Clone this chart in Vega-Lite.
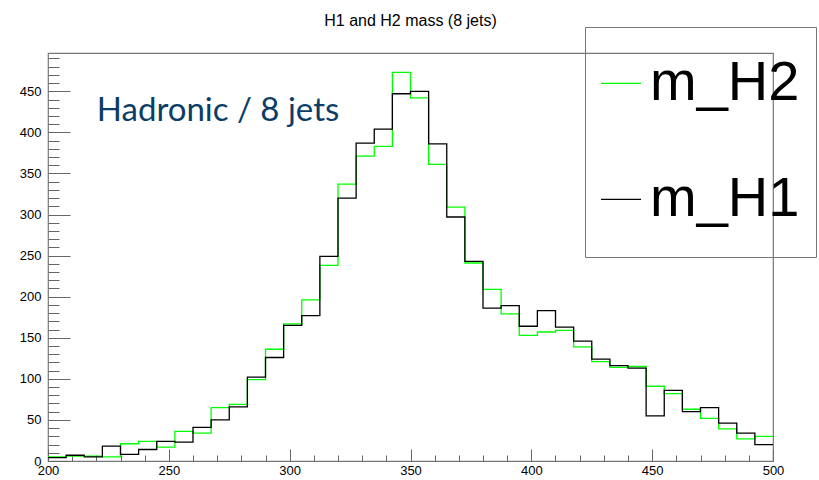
{
  "$schema": "https://vega.github.io/schema/vega-lite/v6.json",
  "width": 725,
  "height": 408,
  "autosize": "none",
  "padding": {"left": 48, "top": 53, "right": 46, "bottom": 19},
  "background": "white",
  "title": {
    "text": "H1 and H2 mass (8 jets)",
    "font": "Liberation Sans",
    "fontSize": 16,
    "fontWeight": "normal",
    "color": "#000000",
    "anchor": "middle",
    "frame": "group",
    "baseline": "alphabetic",
    "offset": -15
  },
  "datasets": {
    "hist": [
      {"mass": 200, "count": 5, "series": "m_H2"},
      {"mass": 207.5, "count": 6, "series": "m_H2"},
      {"mass": 215, "count": 6, "series": "m_H2"},
      {"mass": 222.5, "count": 5, "series": "m_H2"},
      {"mass": 230, "count": 21, "series": "m_H2"},
      {"mass": 237.5, "count": 24, "series": "m_H2"},
      {"mass": 245, "count": 17, "series": "m_H2"},
      {"mass": 252.5, "count": 36, "series": "m_H2"},
      {"mass": 260, "count": 34, "series": "m_H2"},
      {"mass": 267.5, "count": 65, "series": "m_H2"},
      {"mass": 275, "count": 69, "series": "m_H2"},
      {"mass": 282.5, "count": 99, "series": "m_H2"},
      {"mass": 290, "count": 136, "series": "m_H2"},
      {"mass": 297.5, "count": 167, "series": "m_H2"},
      {"mass": 305, "count": 196, "series": "m_H2"},
      {"mass": 312.5, "count": 238, "series": "m_H2"},
      {"mass": 320, "count": 337, "series": "m_H2"},
      {"mass": 327.5, "count": 371, "series": "m_H2"},
      {"mass": 335, "count": 383, "series": "m_H2"},
      {"mass": 342.5, "count": 473, "series": "m_H2"},
      {"mass": 350, "count": 442, "series": "m_H2"},
      {"mass": 357.5, "count": 361, "series": "m_H2"},
      {"mass": 365, "count": 309, "series": "m_H2"},
      {"mass": 372.5, "count": 241, "series": "m_H2"},
      {"mass": 380, "count": 209, "series": "m_H2"},
      {"mass": 387.5, "count": 179, "series": "m_H2"},
      {"mass": 395, "count": 153, "series": "m_H2"},
      {"mass": 402.5, "count": 157, "series": "m_H2"},
      {"mass": 410, "count": 159, "series": "m_H2"},
      {"mass": 417.5, "count": 139, "series": "m_H2"},
      {"mass": 425, "count": 121, "series": "m_H2"},
      {"mass": 432.5, "count": 114, "series": "m_H2"},
      {"mass": 440, "count": 115, "series": "m_H2"},
      {"mass": 447.5, "count": 91, "series": "m_H2"},
      {"mass": 455, "count": 82, "series": "m_H2"},
      {"mass": 462.5, "count": 63, "series": "m_H2"},
      {"mass": 470, "count": 52, "series": "m_H2"},
      {"mass": 477.5, "count": 39, "series": "m_H2"},
      {"mass": 485, "count": 27, "series": "m_H2"},
      {"mass": 492.5, "count": 30, "series": "m_H2"},
      {"mass": 500, "count": 30, "series": "m_H2"},
      {"mass": 200, "count": 4, "series": "m_H1"},
      {"mass": 207.5, "count": 7, "series": "m_H1"},
      {"mass": 215, "count": 5, "series": "m_H1"},
      {"mass": 222.5, "count": 18, "series": "m_H1"},
      {"mass": 230, "count": 8, "series": "m_H1"},
      {"mass": 237.5, "count": 14, "series": "m_H1"},
      {"mass": 245, "count": 24, "series": "m_H1"},
      {"mass": 252.5, "count": 23, "series": "m_H1"},
      {"mass": 260, "count": 41, "series": "m_H1"},
      {"mass": 267.5, "count": 50, "series": "m_H1"},
      {"mass": 275, "count": 66, "series": "m_H1"},
      {"mass": 282.5, "count": 102, "series": "m_H1"},
      {"mass": 290, "count": 126, "series": "m_H1"},
      {"mass": 297.5, "count": 165, "series": "m_H1"},
      {"mass": 305, "count": 177, "series": "m_H1"},
      {"mass": 312.5, "count": 249, "series": "m_H1"},
      {"mass": 320, "count": 320, "series": "m_H1"},
      {"mass": 327.5, "count": 387, "series": "m_H1"},
      {"mass": 335, "count": 404, "series": "m_H1"},
      {"mass": 342.5, "count": 447, "series": "m_H1"},
      {"mass": 350, "count": 450, "series": "m_H1"},
      {"mass": 357.5, "count": 386, "series": "m_H1"},
      {"mass": 365, "count": 297, "series": "m_H1"},
      {"mass": 372.5, "count": 243, "series": "m_H1"},
      {"mass": 380, "count": 186, "series": "m_H1"},
      {"mass": 387.5, "count": 189, "series": "m_H1"},
      {"mass": 395, "count": 164, "series": "m_H1"},
      {"mass": 402.5, "count": 183, "series": "m_H1"},
      {"mass": 410, "count": 163, "series": "m_H1"},
      {"mass": 417.5, "count": 146, "series": "m_H1"},
      {"mass": 425, "count": 124, "series": "m_H1"},
      {"mass": 432.5, "count": 116, "series": "m_H1"},
      {"mass": 440, "count": 113, "series": "m_H1"},
      {"mass": 447.5, "count": 55, "series": "m_H1"},
      {"mass": 455, "count": 86, "series": "m_H1"},
      {"mass": 462.5, "count": 60, "series": "m_H1"},
      {"mass": 470, "count": 65, "series": "m_H1"},
      {"mass": 477.5, "count": 46, "series": "m_H1"},
      {"mass": 485, "count": 34, "series": "m_H1"},
      {"mass": 492.5, "count": 20, "series": "m_H1"},
      {"mass": 500, "count": 20, "series": "m_H1"}
    ],
    "notes": [{"note": "Hadronic / 8 jets"}]
  },
  "resolve": {"axis": {"x": "independent", "y": "independent"}},
  "layer": [
    {
      "data": {"name": "hist"},
      "mark": {"type": "line", "interpolate": "step-after", "strokeWidth": 1.3, "clip": true},
      "encoding": {
        "x": {
          "field": "mass",
          "type": "quantitative",
          "scale": {"domain": [200, 500], "nice": false, "zero": false},
          "axis": {
            "orient": "bottom",
            "title": null,
            "grid": false,
            "domain": false,
            "values": [200, 250, 300, 350, 400, 450, 500],
            "tickColor": "#666666",
            "tickSize": -12,
            "labelFont": "Liberation Sans",
            "labelFontSize": 13,
            "labelColor": "#000000",
            "labelPadding": 15,
            "labelFlush": false,
            "labelOverlap": false
          }
        },
        "y": {
          "field": "count",
          "type": "quantitative",
          "scale": {"domain": [0, 496.6], "nice": false},
          "axis": {
            "orient": "left",
            "title": null,
            "grid": false,
            "domain": false,
            "values": [0, 50, 100, 150, 200, 250, 300, 350, 400, 450],
            "tickColor": "#666666",
            "tickSize": -22,
            "labelFont": "Liberation Sans",
            "labelFontSize": 13,
            "labelColor": "#000000",
            "labelPadding": 29,
            "labelFlush": false,
            "labelOverlap": false
          }
        },
        "color": {
          "field": "series",
          "type": "nominal",
          "scale": {"domain": ["m_H2", "m_H1"], "range": ["#00ff00", "#000000"]},
          "legend": {
            "title": "MMMMMMMMMMMMMMMMMM",
            "titleFont": "Liberation Sans",
            "titleFontSize": 14.3,
            "titleOpacity": 0,
            "titlePadding": 6,
            "titleLimit": 400,
            "orient": "none",
            "legendX": 537,
            "legendY": -26,
            "direction": "vertical",
            "strokeColor": "#777777",
            "fillColor": null,
            "padding": 8,
            "symbolType": "M0,-2.325L0,-2.325M-1,0H1M0,2.325L0,2.325",
            "symbolSize": 1600,
            "symbolStrokeWidth": 1.3,
            "labelFont": "Liberation Sans",
            "labelFontSize": 56,
            "labelColor": "#000000",
            "labelLimit": 400,
            "labelOffset": 1,
            "rowPadding": 16
          }
        }
      }
    },
    {
      "data": {"name": "notes"},
      "mark": {"type": "text", "align": "left", "baseline": "alphabetic", "font": "Lato", "fontSize": 33, "color": "#0c3d66"},
      "encoding": {
        "x": {
          "datum": 220.2,
          "type": "quantitative",
          "axis": {
            "orient": "bottom",
            "title": null,
            "grid": false,
            "domain": false,
            "labels": false,
            "values": [200,210,220,230,240,260,270,280,290,300,310,320,330,340,360,370,380,390,400,410,420,430,440,460,470,480,490],
            "tickColor": "#666666",
            "tickSize": -6
          }
        },
        "y": {
          "datum": 414,
          "type": "quantitative",
          "axis": {
            "orient": "left",
            "title": null,
            "grid": false,
            "domain": false,
            "labels": false,
            "values": [10,20,30,40,60,70,80,90,110,120,130,140,160,170,180,190,210,220,230,240,260,270,280,290,310,320,330,340,360,370,380,390,410,420,430,440,460,470,480,490],
            "tickColor": "#666666",
            "tickSize": -11
          }
        },
        "text": {"field": "note"}
      }
    }
  ],
  "config": {
    "view": {"stroke": "#777777", "strokeWidth": 1.2}
  }
}
